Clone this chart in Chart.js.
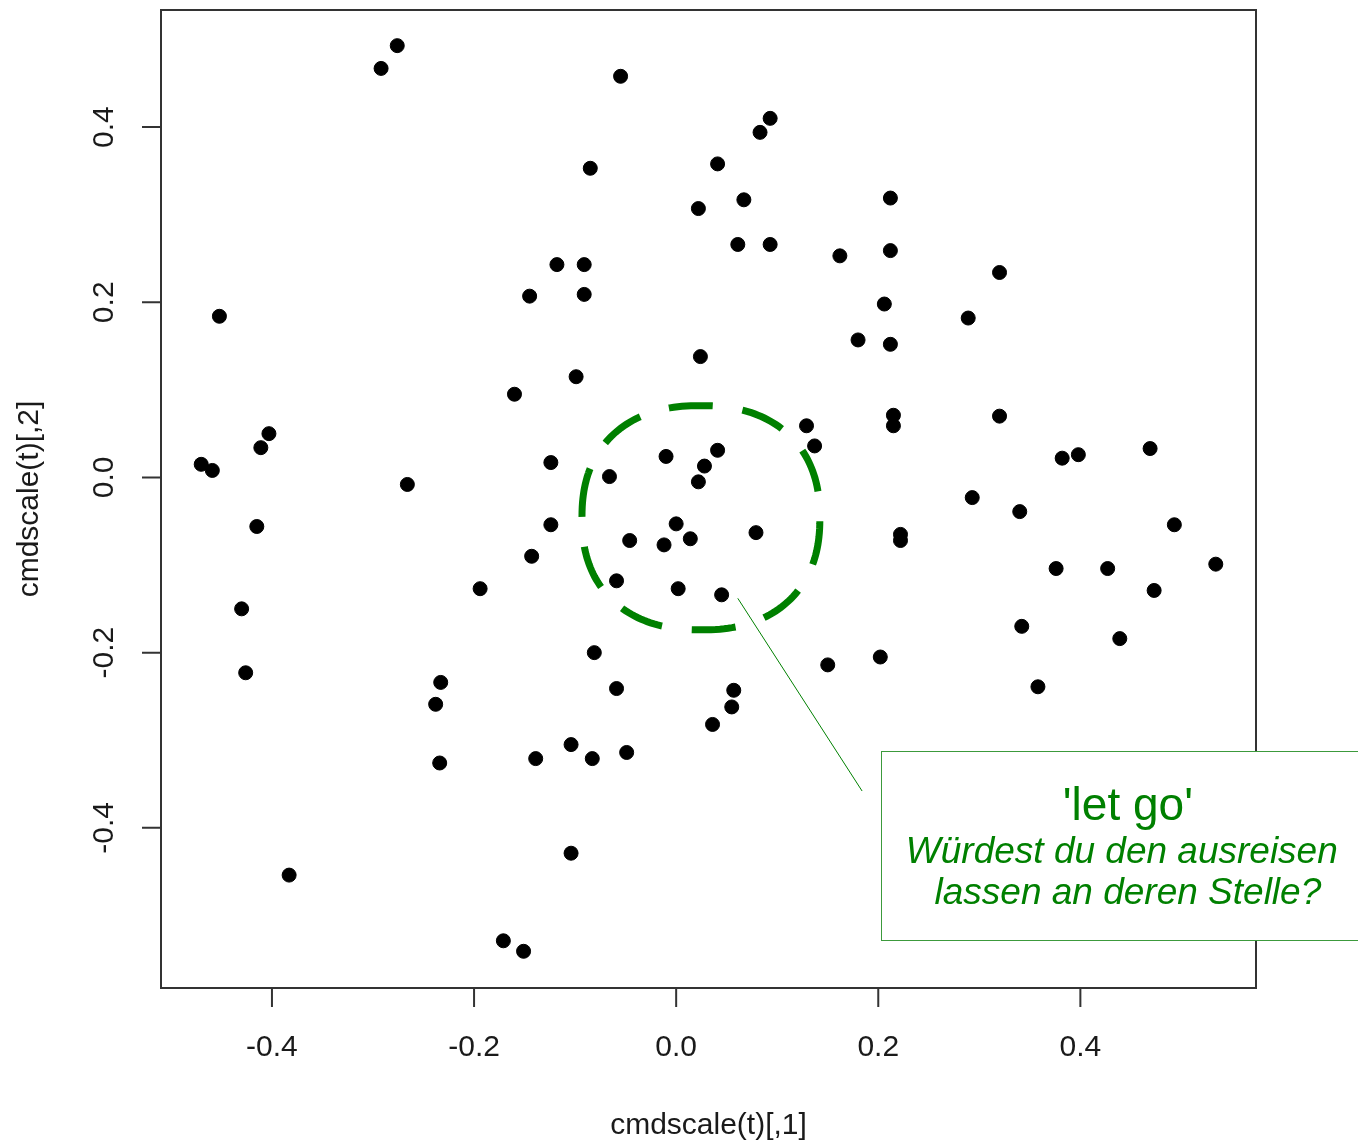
<!DOCTYPE html>
<html>
<head>
<meta charset="utf-8">
<script src="https://cdn.jsdelivr.net/npm/chart.js@4.4.0/dist/chart.umd.min.js"></script>
<style>
  html, body { margin: 0; padding: 0; background: #fff; }
  #wrap { width: 1358px; height: 1144px; }
</style>
</head>
<body>
<div id="wrap"><canvas id="mdsChart" width="1358" height="1144"></canvas></div>
<script>
// --- data ---
const xValues = [
  -0.276, -0.292, -0.055, 0.093, 0.083, 0.041, -0.085, 0.212, 0.067, 0.022,
  0.061, 0.093, 0.212, 0.162, 0.320, -0.118, -0.091, -0.145, -0.091, -0.452,
  0.206, 0.289, 0.180, 0.212, 0.024, -0.099, -0.160, 0.215, 0.320, 0.129,
  0.215, -0.403, 0.137, 0.469, 0.041, -0.411, 0.398, -0.010, 0.382, -0.124,
  -0.470, -0.459, 0.028, -0.066, 0.022, -0.266, 0.293, 0.340, 0.000, -0.124,
  -0.415, 0.493, 0.079, 0.222, 0.222, 0.014, -0.046, -0.012, -0.143, 0.534,
  0.376, 0.427, -0.059, -0.194, 0.002, 0.473, 0.045, -0.430, 0.342, 0.439,
  -0.081, 0.202, 0.150, -0.426, -0.233, 0.358, -0.059, 0.057, -0.238, 0.055,
  0.036, -0.104, -0.049, -0.139, -0.083, -0.234, -0.104, -0.383, -0.171, -0.151
];
const yValues = [
  0.493, 0.467, 0.458, 0.410, 0.394, 0.358, 0.353, 0.319, 0.317, 0.307,
  0.266, 0.266, 0.259, 0.253, 0.234, 0.243, 0.243, 0.207, 0.209, 0.184,
  0.198, 0.182, 0.157, 0.152, 0.138, 0.115, 0.095, 0.071, 0.070, 0.059,
  0.059, 0.050, 0.036, 0.033, 0.031, 0.034, 0.026, 0.024, 0.022, 0.017,
  0.015, 0.008, 0.013, 0.001, -0.005, -0.008, -0.023, -0.039, -0.053, -0.054,
  -0.056, -0.054, -0.063, -0.065, -0.072, -0.070, -0.072, -0.077, -0.090, -0.099,
  -0.104, -0.104, -0.118, -0.127, -0.127, -0.129, -0.134, -0.150, -0.170, -0.184,
  -0.200, -0.205, -0.214, -0.223, -0.234, -0.239, -0.241, -0.243, -0.259, -0.262,
  -0.282, -0.305, -0.314, -0.321, -0.321, -0.326, -0.429, -0.454, -0.529, -0.541
];
const xTicks = [-0.4, -0.2, 0.0, 0.2, 0.4];
const yTicks = [-0.4, -0.2, 0.0, 0.2, 0.4];
const xTitle = "cmdscale(t)[,1]";
const yTitle = "cmdscale(t)[,2]";
const calloutTitle = "'let go'";
const calloutLines = ["Würdest du den ausreisen", "lassen an deren Stelle?"];

const FONT = '"Liberation Sans", Arial, sans-serif';
const AXIS_COLOR = "#333333";
const GREEN = "#008000";

// callout placed in data units so it follows the scales
const callout = {
  cx: 0.0245, cy: -0.046, rx: 0.1177, ry: 0.128,
  lineFrom: [0.061, -0.138], lineTo: [0.184, -0.358],
  boxLeft: 0.203, boxTop: -0.312, boxBottom: -0.528,
  textX: [0.447, 0.441, 0.447], titleY: -0.391, lineY: [-0.440, -0.487]
};

const frameAndCallout = {
  id: "frameAndCallout",
  afterDatasetsDraw(chart) {
    const { ctx, chartArea: a, scales } = chart;
    const xs = scales.x, ys = scales.y;
    ctx.save();

    // plot box
    ctx.strokeStyle = AXIS_COLOR;
    ctx.lineWidth = 2;
    ctx.strokeRect(a.left, a.top, a.right - a.left, a.bottom - a.top);

    // ticks + labels (R style, outside the box)
    ctx.fillStyle = "#1a1a1a";
    ctx.font = "30px " + FONT;
    ctx.textAlign = "center";
    ctx.textBaseline = "middle";
    ctx.beginPath();
    xTicks.forEach(v => {
      const px = xs.getPixelForValue(v);
      ctx.moveTo(px, a.bottom);
      ctx.lineTo(px, a.bottom + 19);
      ctx.fillText(v.toFixed(1), px, a.bottom + 60);
    });
    yTicks.forEach(v => {
      const py = ys.getPixelForValue(v);
      ctx.moveTo(a.left, py);
      ctx.lineTo(a.left - 19, py);
      ctx.save();
      ctx.translate(a.left - 56, py);
      ctx.rotate(-Math.PI / 2);
      ctx.fillText(v.toFixed(1), 0, 0);
      ctx.restore();
    });
    ctx.stroke();

    // axis titles
    ctx.fillText(xTitle, (a.left + a.right) / 2, a.bottom + 138);
    ctx.save();
    ctx.translate(a.left - 131, (a.top + a.bottom) / 2);
    ctx.rotate(-Math.PI / 2);
    ctx.fillText(yTitle, 0, 0);
    ctx.restore();

    // dashed blob round the centre cluster
    const cx = xs.getPixelForValue(callout.cx), cy = ys.getPixelForValue(callout.cy);
    const rx = xs.getPixelForValue(callout.cx + callout.rx) - cx;
    const ry = cy - ys.getPixelForValue(callout.cy + callout.ry);
    const n = 2.3;
    ctx.strokeStyle = GREEN;
    ctx.lineWidth = 7;
    ctx.setLineDash([44, 30]);
    ctx.beginPath();
    for (let i = 0; i <= 200; i++) {
      const t = Math.PI + 0.35 - (i / 200) * Math.PI * 2;
      const c = Math.cos(t), s = Math.sin(t);
      const px = cx + rx * Math.sign(c) * Math.pow(Math.abs(c), 2 / n);
      const py = cy + ry * Math.sign(s) * Math.pow(Math.abs(s), 2 / n);
      if (i === 0) ctx.moveTo(px, py); else ctx.lineTo(px, py);
    }
    ctx.stroke();
    ctx.setLineDash([]);

    // leader line
    ctx.lineWidth = 1;
    ctx.beginPath();
    ctx.moveTo(xs.getPixelForValue(callout.lineFrom[0]), ys.getPixelForValue(callout.lineFrom[1]));
    ctx.lineTo(xs.getPixelForValue(callout.lineTo[0]), ys.getPixelForValue(callout.lineTo[1]));
    ctx.stroke();

    // text box (runs off the right edge of the page)
    const bl = Math.round(xs.getPixelForValue(callout.boxLeft)) + 0.5;
    const bt = Math.round(ys.getPixelForValue(callout.boxTop)) + 0.5;
    const bb = Math.round(ys.getPixelForValue(callout.boxBottom)) + 0.5;
    const br = chart.width + 5;
    ctx.fillStyle = "#ffffff";
    ctx.fillRect(bl, bt, br - bl, bb - bt);
    ctx.strokeStyle = "#3c9a3c";
    ctx.strokeRect(bl, bt, br - bl, bb - bt);

    ctx.fillStyle = GREEN;
    ctx.textBaseline = "alphabetic";
    ctx.font = "46px " + FONT;
    ctx.fillText(calloutTitle, xs.getPixelForValue(callout.textX[0]), ys.getPixelForValue(callout.titleY));
    ctx.font = "italic 37px " + FONT;
    calloutLines.forEach((line, i) => {
      ctx.fillText(line, xs.getPixelForValue(callout.textX[i + 1]), ys.getPixelForValue(callout.lineY[i]));
    });

    ctx.restore();
  }
};

const points = xValues.map((x, i) => ({ x: x, y: yValues[i] }));

new Chart(document.getElementById("mdsChart"), {
  type: "scatter",
  data: {
    datasets: [{
      data: points,
      backgroundColor: "#000000",
      borderColor: "#000000",
      borderWidth: 1,
      pointRadius: 7,
      pointHoverRadius: 7
    }]
  },
  options: {
    responsive: false,
    animation: false,
    devicePixelRatio: 1,
    layout: { padding: { left: 161, top: 10, right: 102, bottom: 156 } },
    plugins: { legend: { display: false }, tooltip: { enabled: false } },
    scales: {
      x: { type: "linear", min: -0.5098, max: 0.5738, display: false },
      y: { type: "linear", min: -0.5829, max: 0.5337, display: false }
    }
  },
  plugins: [frameAndCallout]
});
</script>
</body>
</html>
